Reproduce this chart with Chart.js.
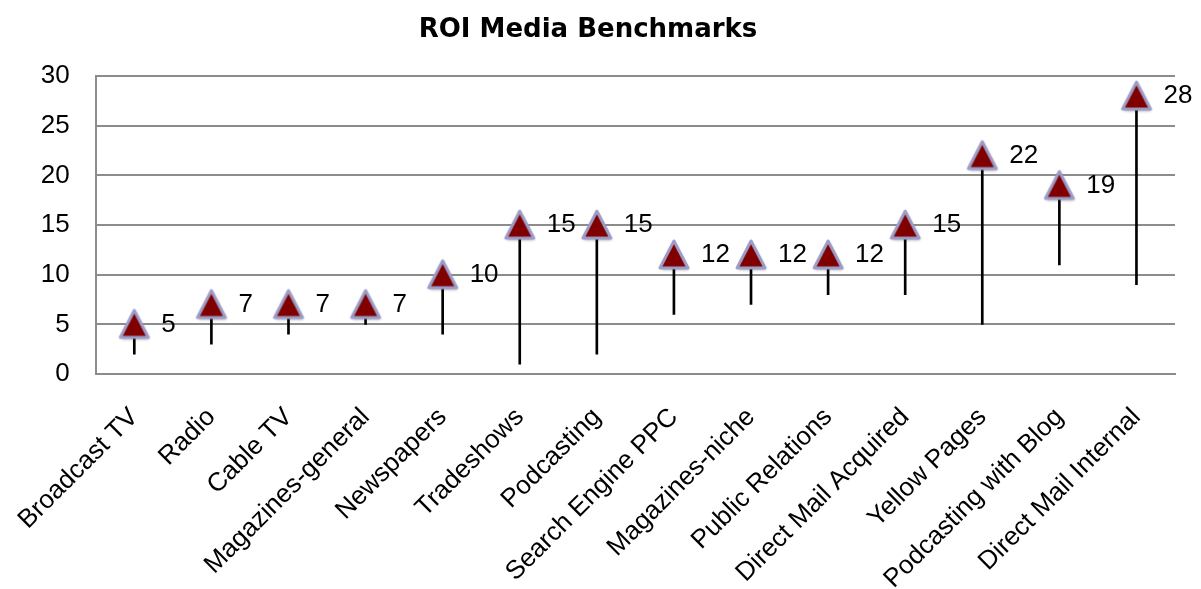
<!DOCTYPE html>
<html>
<head>
<meta charset="utf-8">
<script src="https://cdn.jsdelivr.net/npm/chart.js@4.4.0/dist/chart.umd.min.js"></script>
<style>
  html, body { margin: 0; padding: 0; background: #fff; }
  #wrap { width: 1201px; height: 589px; }
</style>
</head>
<body>
<div id="wrap"><canvas id="chart"></canvas></div>
<script>
// Chart data
const categories = ['Broadcast TV', 'Radio', 'Cable TV', 'Magazines-general', 'Newspapers', 'Tradeshows',
    'Podcasting', 'Search Engine PPC', 'Magazines-niche', 'Public Relations', 'Direct Mail Acquired',
    'Yellow Pages', 'Podcasting with Blog', 'Direct Mail Internal'];
const roiValues = [5, 7, 7, 7, 10, 15, 15, 12, 12, 12, 15, 22, 19, 28];
const lowValues = [2, 3, 4, 5, 4, 1, 2, 6, 7, 8, 8, 5, 11, 9];
const yTicks = [0, 5, 10, 15, 20, 25, 30];

const FONT = '"Liberation Sans", Arial, sans-serif';

// Triangle marker image
function makeTriangle() {
    const c = document.createElement('canvas');
    c.width = 36; c.height = 36;
    const ctx = c.getContext('2d');
    ctx.shadowColor = 'rgba(0,0,0,0.35)';
    ctx.shadowBlur = 3;
    ctx.shadowOffsetX = 1;
    ctx.shadowOffsetY = 2;
    ctx.beginPath();
    ctx.moveTo(18, 4);
    ctx.lineTo(4, 31);
    ctx.lineTo(32, 31);
    ctx.closePath();
    ctx.fillStyle = '#800000';
    ctx.strokeStyle = '#9c9cc8';
    ctx.lineWidth = 3;
    ctx.lineJoin = 'round';
    ctx.fill();
    ctx.shadowColor = 'transparent';
    ctx.stroke();
    return c;
}

// Value labels next to markers
const valueLabels = {
    id: 'valueLabels',
    afterDatasetsDraw(chart) {
        const meta = chart.getDatasetMeta(1);
        const ctx = chart.ctx;
        ctx.save();
        ctx.font = '26px ' + FONT;
        ctx.fillStyle = '#000';
        ctx.textAlign = 'left';
        ctx.textBaseline = 'middle';
        meta.data.forEach((pt, i) => {
            ctx.fillText(String(roiValues[i]), pt.x + 27, pt.y);
        });
        ctx.restore();
    }
};

const tri = makeTriangle();

new Chart(document.getElementById('chart'), {
    type: 'bar',
    data: {
        labels: categories,
        datasets: [{
            label: 'Range',
            data: lowValues.map((lo, i) => [lo, roiValues[i]]),
            backgroundColor: '#000',
            barThickness: 2,
            order: 2
        }, {
            type: 'line',
            label: 'ROI',
            data: roiValues,
            showLine: false,
            pointStyle: tri,
            pointRadius: 13,
            order: 1
        }]
    },
    options: {
        responsive: true,
        maintainAspectRatio: false,
        animation: false,
        layout: { padding: { left: 1, right: 26, top: 0, bottom: 0 } },
        plugins: {
            legend: { display: false },
            tooltip: { enabled: false },
            title: {
                display: true,
                text: 'ROI Media Benchmarks',
                color: '#000',
                font: { family: '"DejaVu Sans", sans-serif', size: 26, weight: 'bold' },
                padding: { top: 15, bottom: 30 }
            }
        },
        scales: {
            x: {
                grid: { display: false },
                border: { display: true, color: '#8c8c8c', width: 2 },
                afterFit: (axis) => { axis.height = 215; },
                ticks: {
                    color: '#000',
                    font: { family: FONT, size: 26 },
                    maxRotation: 45,
                    minRotation: 45,
                    autoSkip: false,
                    padding: 20
                }
            },
            y: {
                min: 0,
                max: 30,
                afterBuildTicks: (axis) => { axis.ticks = yTicks.map(v => ({ value: v })); },
                grid: { color: '#8c8c8c', lineWidth: 2, drawTicks: false },
                border: { display: true, color: '#8c8c8c', width: 2 },
                ticks: {
                    color: '#000',
                    font: { family: FONT, size: 26 },
                    padding: 26
                }
            }
        }
    },
    plugins: [valueLabels]
});
</script>
</body>
</html>
